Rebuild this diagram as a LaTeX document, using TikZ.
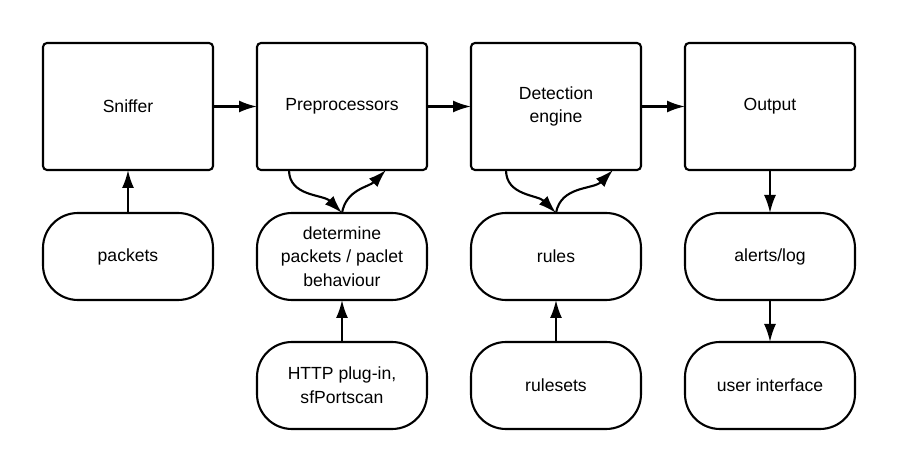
\documentclass[tikz,border=0pt]{standalone}
\usepackage{fontspec}
\setmainfont{Liberation Sans}
\usepackage{tikz}
\usetikzlibrary{shapes,arrows.meta,positioning}

\begin{document}
\begin{tikzpicture}[node distance=0.88cm, auto]
        \tikzstyle{block} = [rectangle, draw, line width=1.2pt, text centered, rounded corners=0.08cm, minimum height=2.54cm, minimum width=3.4cm, align=center, outer sep=0pt, font=\fontsize{10}{13.5}\selectfont]
        \tikzstyle{term} = [rectangle, draw, line width=1.2pt, text centered, rounded corners=0.7cm, minimum height=1.74cm, minimum width=3.4cm, align=center, outer sep=0pt, font=\fontsize{10}{13.5}\selectfont]
        \tikzstyle{line} = [draw, line width=1.2pt, -{Latex[length=0.36cm, width=0.24cm]}]

        \useasboundingbox (0,0) rectangle (18,-9.42);

        \node [block] (sniffer) at (2.56,-2.13) {Sniffer};
        \node [block, right=of sniffer] (prep) {Preprocessors};
        \node [block, right=of prep] (detect) {Detection\\engine};
        \node [block, right=of detect] (output) {Output};

        \node [term, below=0.86cm of sniffer] (packets) {packets};
        \node [term, below=0.86cm of prep] (behaviour) {determine\\packets / paclet\\behaviour};
        \node [term, below=0.86cm of detect] (rules) {rules};
        \node [term, below=0.86cm of output] (alerts) {alerts/log};

        \node [term, below=0.84cm of behaviour] (plugin) {HTTP plug-in,\\sfPortscan};
        \node [term, below=0.84cm of rules] (rulesets) {rulesets};
        \node [term, below=0.84cm of alerts] (ui) {user interface};

        \path [line] (sniffer) -- (prep);
        \path [line] (prep) -- (detect);
        \path [line] (detect) -- (output);

        \path [line] (packets) -- (sniffer);
        \path [line] ([xshift=-1.06cm]prep.south) to[out=-90, in=135] (behaviour.north);
        \path [line] (behaviour.north) to[out=80, in=-135] ([xshift=0.88cm]prep.south);
        \path [line] ([xshift=-1.0cm]detect.south) to[out=-90, in=135] (rules.north);
        \path [line] (rules.north) to[out=80, in=-135] ([xshift=1.14cm]detect.south);
        \path [line] (plugin) -- (behaviour);
        \path [line] (rulesets) -- (rules);
        \path [line] (output) -- (alerts);
        \path [line] (alerts) -- (ui);
    \end{tikzpicture}
\end{document}
